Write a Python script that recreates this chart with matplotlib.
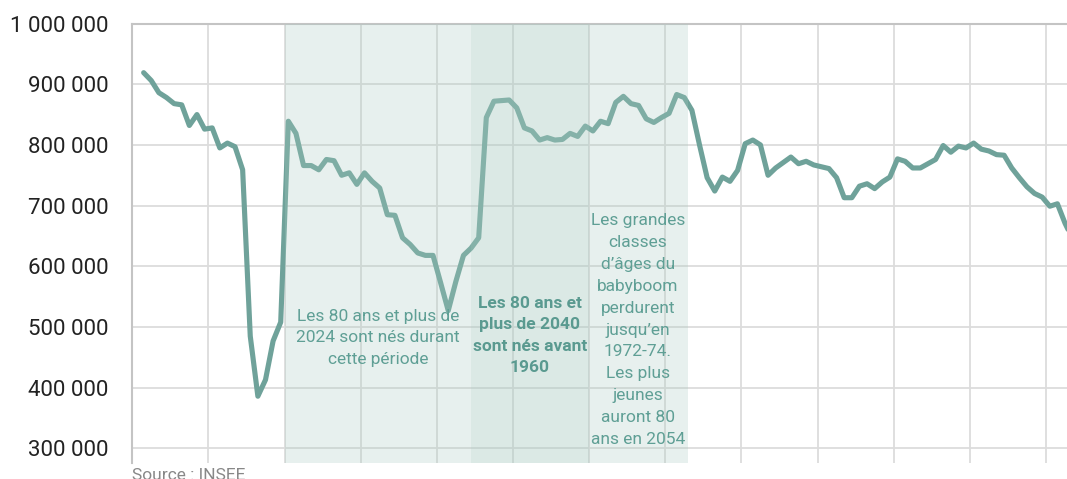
#%%  Librairies

import numpy as np
import matplotlib
matplotlib.use("Agg")
from matplotlib import pyplot as plt

#%%  Données : naissances en France (INSEE)

annees = np.arange(1901, 2024)
naissances = np.array([
    919, 906, 886, 878, 868, 866, 832, 850, 826, 828,   # 1901-1910
    795, 803, 797, 759, 485, 386, 413, 477, 508, 839,   # 1911-1920
    819, 766, 766, 759, 776, 774, 750, 754, 735, 754,   # 1921-1930
    740, 729, 685, 684, 647, 636, 622, 618, 618, 573,   # 1931-1940
    527, 575, 618, 630, 647, 845, 872, 873, 874, 861,   # 1941-1950
    828, 823, 808, 812, 808, 809, 819, 814, 831, 823,   # 1951-1960
    839, 835, 870, 880, 868, 865, 843, 837, 845, 852,   # 1961-1970
    883, 878, 857, 800, 746, 724, 747, 740, 758, 802,   # 1971-1980
    808, 800, 750, 762, 771, 780, 769, 773, 767, 764,   # 1981-1990
    761, 746, 713, 713, 732, 736, 728, 739, 747, 777,   # 1991-2000
    773, 762, 762, 769, 776, 799, 788, 798, 795, 803,   # 2001-2010
    793, 790, 784, 783, 762, 746, 731, 720, 714, 699,   # 2011-2020
    703, 671, 645,                                      # 2021-2023
]) * 1000

# periodes surlignees
periode_2024 = (1919.5, 1972.5)
periode_2040 = (1944, 1959.5)

y_ticks = np.arange(300000, 1000001, 100000)

txt_2024 = "Les 80 ans et plus de\n2024 sont nés durant\ncette période"
txt_2040 = "Les 80 ans et\nplus de 2040\nsont nés avant\n1960"
txt_boom = ("Les grandes\nclasses\nd’âges du\nbabyboom\nperdurent\njusqu’en\n"
            "1972-74.\nLes plus\njeunes\nauront 80\nans en 2054")

#%%  Figure

plt.rcParams['font.family'] = ['Roboto', 'DejaVu Sans']

fig = plt.figure(figsize=(10.67, 4.79), dpi=100)
ax = fig.add_axes([132/1067, 16/479, 935/1067, 439.5/479])

ax.plot(annees, naissances, color='#6fa29a', lw=3.7,
        solid_joinstyle='round', solid_capstyle='round', zorder=2)

# les bandes passent par-dessus la courbe (elle parait plus claire dedans)
ax.axvspan(*periode_2024, color='#a9cbc1', alpha=0.27, lw=0, zorder=3)
ax.axvspan(*periode_2040, color='#a9cbc1', alpha=0.18, lw=0, zorder=3)

ax.set_xlim(1899.47, 2022.26)
ax.set_ylim(276000, 1000000)
ax.set_xticks(np.arange(1899.5, 2020, 10))
ax.set_yticks(y_ticks)
ax.set_yticklabels([f"{v:,}".replace(",", " ") for v in y_ticks])
ax.tick_params(axis='x', length=0, labelbottom=False)
ax.tick_params(axis='y', length=0, pad=17, labelsize=16, labelcolor='#222222')
ax.grid(color='#dcdcdc', lw=1.3, zorder=1)
ax.set_axisbelow(True)

for s in ['right', 'bottom']:
    ax.spines[s].set_visible(False)
for s in ['top', 'left']:
    ax.spines[s].set_color('#c4c4c4')
    ax.spines[s].set_linewidth(1.5)

col_txt = '#5f9f95'
ax.text(1931.8, 482000, txt_2024, ha='center', va='center', fontsize=12.5,
        color=col_txt, linespacing=1.55, zorder=4)
ax.text(1951.7, 486000, txt_2040, ha='center', va='center', fontsize=12.5,
        color='#5a9a90', fontweight='bold', linespacing=1.55, zorder=4)
ax.text(1965.9, 495000, txt_boom, ha='center', va='center', fontsize=12.5,
        color=col_txt, linespacing=1.57, zorder=4)

fig.text(132/1067, 1 - 468/479, "Source : INSEE", ha='left', va='top',
         fontsize=12.5, color='#888888')

fig.savefig("out.png", dpi=100)
